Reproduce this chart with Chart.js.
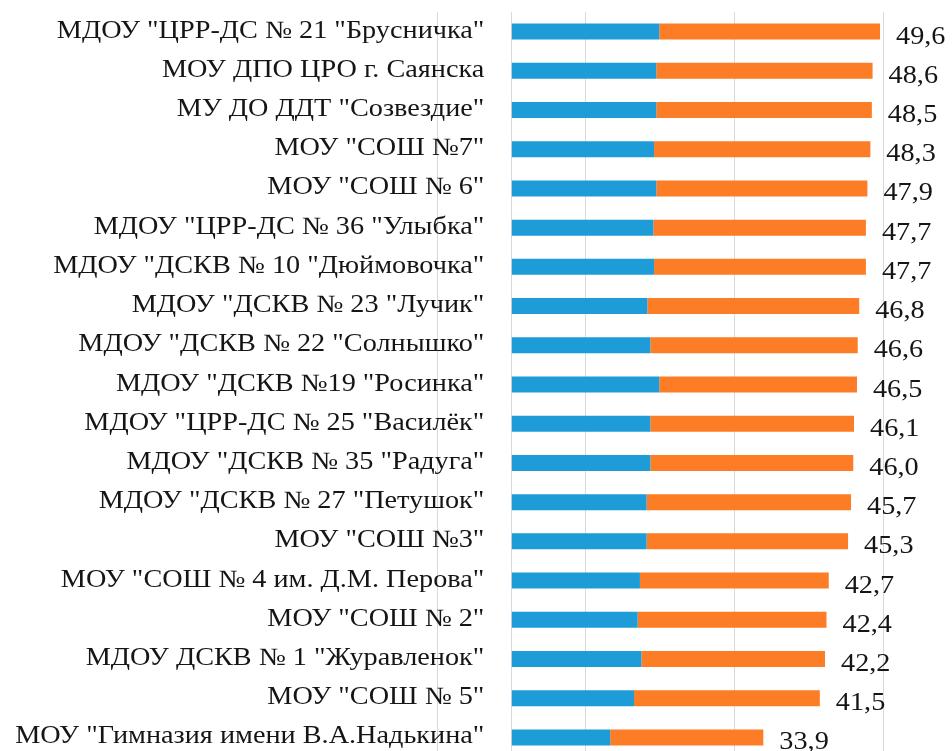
<!DOCTYPE html>
<html>
<head>
<meta charset="utf-8">
<script src="https://cdn.jsdelivr.net/npm/chart.js@4/dist/chart.umd.min.js"></script>
<style>
  html, body { margin: 0; padding: 0; background: #fff; overflow: hidden; }
  #wrap { width: 952px; height: 760px; }
</style>
</head>
<body>
<div id="wrap"><canvas id="barChart" width="952" height="760"></canvas></div>
<script>
const labels = [
  'МДОУ "ЦРР-ДС № 21 "Брусничка"',
  'МОУ ДПО ЦРО г. Саянска',
  'МУ ДО ДДТ "Созвездие"',
  'МОУ "СОШ №7"',
  'МОУ "СОШ № 6"',
  'МДОУ "ЦРР-ДС № 36 "Улыбка"',
  'МДОУ "ДСКВ № 10 "Дюймовочка"',
  'МДОУ "ДСКВ № 23 "Лучик"',
  'МДОУ "ДСКВ № 22 "Солнышко"',
  'МДОУ "ДСКВ №19 "Росинка"',
  'МДОУ "ЦРР-ДС № 25 "Василёк"',
  'МДОУ "ДСКВ № 35 "Радуга"',
  'МДОУ "ДСКВ № 27 "Петушок"',
  'МОУ "СОШ №3"',
  'МОУ "СОШ № 4 им. Д.М. Перова"',
  'МОУ "СОШ № 2"',
  'МДОУ ДСКВ № 1 "Журавленок"',
  'МОУ "СОШ № 5"',
  'МОУ "Гимназия имени В.А.Надькина"'
];

const totals = [49.6, 48.6, 48.5, 48.3, 47.9, 47.7, 47.7, 46.8, 46.6, 46.5, 46.1, 46.0, 45.7, 45.3, 42.7, 42.4, 42.2, 41.5, 33.9];
const firstPart = [19.9, 19.5, 19.5, 19.2, 19.5, 19.1, 19.2, 18.3, 18.7, 19.9, 18.7, 18.7, 18.2, 18.2, 17.3, 17.0, 17.5, 16.5, 13.3];
const secondPart = totals.map((t, i) => Math.round((t - firstPart[i]) * 10) / 10);

const gridValues = [-10, 0, 10, 30, 50];
const FONT = '"Liberation Serif", "Times New Roman", serif';
const TEXT_COLOR = '#151515';
const STRETCH = 1.13;

// category names, right-aligned just left of the zero line
const categoryLabels = {
  id: 'categoryLabels',
  afterDraw(chart) {
    const ctx = chart.ctx;
    const yScale = chart.scales.y;
    const xRight = chart.scales.x.getPixelForValue(0) - 27;
    ctx.save();
    ctx.font = '25px ' + FONT;
    ctx.fillStyle = TEXT_COLOR;
    ctx.textAlign = 'right';
    ctx.textBaseline = 'alphabetic';
    labels.forEach((label, i) => {
      const y = yScale.getPixelForTick(i);
      ctx.save();
      ctx.translate(xRight, y + 6);
      ctx.scale(STRETCH, 1);
      ctx.fillText(label, 0, 0);
      ctx.restore();
    });
    ctx.restore();
  }
};

const totalLabels = {
  id: 'totalLabels',
  afterDatasetsDraw(chart) {
    const ctx = chart.ctx;
    const meta = chart.getDatasetMeta(1);
    ctx.save();
    ctx.font = '25px ' + FONT;
    ctx.fillStyle = TEXT_COLOR;
    ctx.textAlign = 'left';
    ctx.textBaseline = 'alphabetic';
    meta.data.forEach((bar, i) => {
      const text = totals[i].toFixed(1).replace('.', ',');
      ctx.save();
      ctx.translate(bar.x + 16, bar.y + 12);
      ctx.scale(STRETCH, 1);
      ctx.fillText(text, 0, 0);
      ctx.restore();
    });
    ctx.restore();
  }
};

const ctx = document.getElementById('barChart').getContext('2d');
new Chart(ctx, {
  type: 'bar',
  data: {
    labels: labels,
    datasets: [
      { data: firstPart, backgroundColor: '#1e9cd7', categoryPercentage: 1, barPercentage: 0.408 },
      { data: secondPart, backgroundColor: '#fd7c26', categoryPercentage: 1, barPercentage: 0.408 }
    ]
  },
  options: {
    indexAxis: 'y',
    responsive: false,
    animation: false,
    layout: { padding: { top: 12, right: 69, bottom: 3, left: 0 } },
    plugins: { legend: { display: false }, tooltip: { enabled: false } },
    scales: {
      x: {
        stacked: true,
        min: -10,
        max: 50,
        afterBuildTicks: (scale) => { scale.ticks = gridValues.map(v => ({ value: v })); },
        ticks: { display: false },
        grid: { color: '#d9d9d9', lineWidth: 1, drawTicks: false },
        border: { display: false }
      },
      y: {
        stacked: true,
        afterFit: (scale) => {
          scale.width = 437;
          scale.paddingTop = 0;
          scale.paddingBottom = 0;
        },
        ticks: { display: false },
        grid: { display: false, drawTicks: false },
        border: { display: false }
      }
    }
  },
  plugins: [categoryLabels, totalLabels]
});
</script>
</body>
</html>
